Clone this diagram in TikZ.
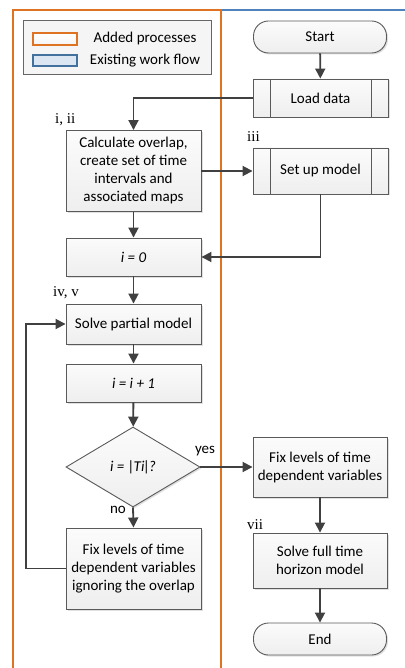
\documentclass[tikz,border=0pt]{standalone}
\usepackage{fontspec}
\setmainfont{Carlito}
\newfontfamily\lblfont{Liberation Serif}
\usetikzlibrary{arrows.meta,shapes.geometric,shadows}
\definecolor{addorange}{RGB}{222,115,35}
\definecolor{flowblue}{RGB}{79,129,189}
\definecolor{legblue}{RGB}{220,230,242}
\definecolor{legblueline}{RGB}{65,113,156}
\definecolor{lineg}{RGB}{64,64,64}
\definecolor{boxline}{RGB}{90,90,90}
\tikzset{
  txt/.style={font=\fontsize{15}{18}\selectfont},
  box/.style={txt, draw=boxline, line width=0.9pt, top color=gray!3, bottom color=gray!13,
    minimum width=135pt, align=center, inner sep=2pt,
    drop shadow={shadow xshift=1.5pt, shadow yshift=-1.5pt, fill=black, opacity=0.12}},
  procbox/.style={box, path picture={
    \draw[boxline, line width=0.9pt] ([xshift=17pt]path picture bounding box.north west) -- ([xshift=17pt]path picture bounding box.south west);
    \draw[boxline, line width=0.9pt] ([xshift=-17pt]path picture bounding box.north east) -- ([xshift=-17pt]path picture bounding box.south east);}},
  term/.style={box, rounded corners=15pt, minimum width=133pt, minimum height=32pt},
  decision/.style={box, diamond, aspect=1.675, minimum width=134pt, minimum height=80pt, inner sep=0pt},
  arr/.style={draw=lineg, line width=1.8pt, -{Triangle[length=10pt,width=10pt]}},
  lbl/.style={font=\lblfont\fontsize{15}{18}\selectfont, anchor=west, inner sep=0pt},
  yn/.style={txt, inner sep=0pt},
}
\begin{document}
\begin{tikzpicture}[x=1pt,y=-1pt]
\useasboundingbox (0,0) rectangle (404,668);
% swimlane borders
\draw[addorange, line width=2pt] (12.5,680) -- (12.5,10) -- (221,10) -- (221,680);
\draw[flowblue, line width=2pt] (222,10) -- (410,10);
% legend
\node[draw=gray!80!black, line width=0.9pt, fill=gray!8, minimum width=188pt, minimum height=54pt, inner sep=0pt] (legend) at (117,47) {};
\node[draw=addorange, line width=1.4pt, top color=white, bottom color=gray!8, minimum width=44pt, minimum height=12pt, inner sep=0pt] (legA) at (55,39) {};
\node[draw=legblueline, line width=1.4pt, fill=legblue, minimum width=44pt, minimum height=11pt, inner sep=0pt] (legB) at (55,60.5) {};
\node[txt, anchor=center] (legAt) at (145,39) {Added processes};
\node[txt, anchor=center] (legBt) at (145,61) {Existing work flow};
% right column
\node[term] (start) at (320,37) {Start};
\node[procbox, minimum height=38pt] (load) at (320.5,98) {Load data};
\node[procbox, minimum height=46pt] (setup) at (320.5,171) {Set up model};
\node[box, minimum height=60pt, minimum width=134pt] (fixR) at (320,467) {Fix levels of time\\dependent variables};
\node[box, minimum height=55pt, minimum width=134pt] (solveF) at (320,560.5) {Solve full time\\horizon model};
\node[term] (end) at (320,639) {End};
% left column
\node[box, minimum height=81pt] (calc) at (133.5,171) {Calculate overlap,\\create set of time\\intervals and\\associated maps};
\node[box, minimum height=38pt] (i0) at (133.5,257) {\itshape i = 0};
\node[box, minimum height=40pt] (solve) at (133.5,324) {Solve partial model};
\node[box, minimum height=38pt] (inc) at (133.5,383) {\itshape i = i + 1};
\node[decision] (dec) at (133,467) {\itshape i = |\kern-1pt Ti\kern-1pt|\kern-1.5pt?};
\node[box, minimum height=81pt] (fixL) at (133.5,568.5) {Fix levels of time\\dependent variables\\ignoring the overlap};
% step labels
\node[lbl] (l1) at (55,120) {i, ii};
\node[lbl] (l3) at (247,137) {iii};
\node[lbl] (l4) at (53,293) {iv, v};
\node[lbl] (l7) at (247,525) {vii};
% connectors
\draw[arr] (start) -- (load);
\draw[arr] (load.west) -| (calc.north);
\draw[arr] (calc.east) -- (setup.west);
\draw[arr] (setup.south) |- (i0.east);
\draw[arr] (calc) -- (i0);
\draw[arr] (i0) -- (solve);
\draw[arr] (solve) -- (inc);
\draw[arr] (inc) -- (dec);
\draw[arr] (dec.east) -- (fixR.west);
\draw[arr] (dec.south) -- (fixL.north);
\coordinate (loopc) at (26,568.5);
\draw[arr] (fixL.west) -- (loopc) |- (solve.west);
\draw[arr] (fixR) -- (solveF);
\draw[arr] (solveF) -- (end);
\node[yn] (yes) at (205,451) {yes};
\node[yn] (no) at (118,510) {no};
\end{tikzpicture}
\end{document}
